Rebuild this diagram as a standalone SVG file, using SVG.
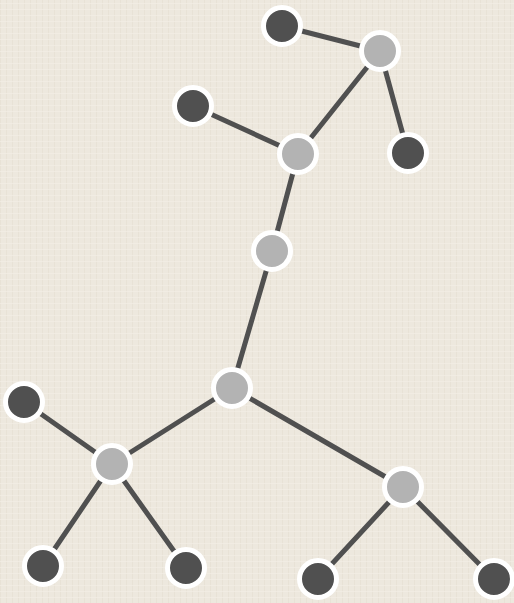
<svg xmlns="http://www.w3.org/2000/svg" width="514" height="603" viewBox="0 0 514 603">
<defs>
<pattern id="tex" width="6" height="6" patternUnits="userSpaceOnUse">
<rect width="6" height="6" fill="#ede8de"/>
<rect x="0" y="0" width="1" height="6" fill="#e6e0d4" opacity="0.7"/>
<rect x="0" y="3" width="6" height="1" fill="#f3efe6" opacity="0.7"/>
</pattern>
<style>
.e{stroke:#505050;stroke-width:5;stroke-linecap:round;fill:none}
.n circle{stroke:#ffffff;stroke-width:5}
.d circle{fill:#505050}
.l circle{fill:#b3b3b3}
</style>
</defs>
<rect width="514" height="603" fill="url(#tex)"/>
<g id="edges">
<line class="e" x1="282" y1="26" x2="380" y2="51"/>
<line class="e" x1="380" y1="51" x2="408" y2="153"/>
<line class="e" x1="380" y1="51" x2="298" y2="154"/>
<line class="e" x1="193" y1="106" x2="298" y2="154"/>
<line class="e" x1="298" y1="154" x2="272" y2="251"/>
<line class="e" x1="272" y1="251" x2="232" y2="388"/>
<line class="e" x1="232" y1="388" x2="112" y2="464"/>
<line class="e" x1="232" y1="388" x2="403" y2="487"/>
<line class="e" x1="24" y1="402" x2="112" y2="464"/>
<line class="e" x1="112" y1="464" x2="43" y2="566"/>
<line class="e" x1="112" y1="464" x2="186" y2="568"/>
<line class="e" x1="403" y1="487" x2="318" y2="579"/>
<line class="e" x1="403" y1="487" x2="494" y2="579"/>
</g>
<g id="nA" class="n d"><circle cx="282" cy="26" r="18.5"/></g>
<g id="nB" class="n l"><circle cx="380" cy="51" r="18.5"/></g>
<g id="nC" class="n d"><circle cx="408" cy="153" r="18.5"/></g>
<g id="nD" class="n l"><circle cx="298" cy="154" r="18.5"/></g>
<g id="nE" class="n d"><circle cx="193" cy="106" r="18.5"/></g>
<g id="nF" class="n l"><circle cx="272" cy="251" r="18.5"/></g>
<g id="nG" class="n l"><circle cx="232" cy="388" r="18.5"/></g>
<g id="nH" class="n d"><circle cx="24" cy="402" r="18.5"/></g>
<g id="nI" class="n l"><circle cx="112" cy="464" r="18.5"/></g>
<g id="nJ" class="n d"><circle cx="43" cy="566" r="18.5"/></g>
<g id="nK" class="n d"><circle cx="186" cy="568" r="18.5"/></g>
<g id="nL" class="n l"><circle cx="403" cy="487" r="18.5"/></g>
<g id="nM" class="n d"><circle cx="318" cy="579" r="18.5"/></g>
<g id="nN" class="n d"><circle cx="494" cy="579" r="18.5"/></g>
</svg>
